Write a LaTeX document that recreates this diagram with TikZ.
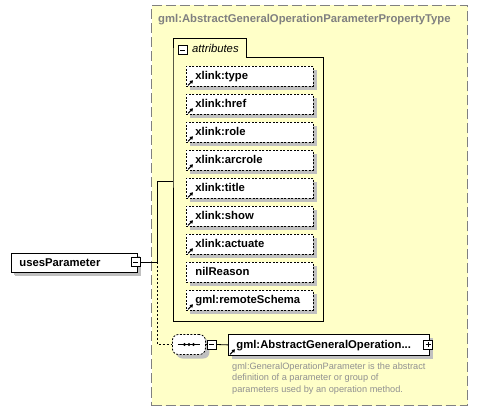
\documentclass[tikz,border=0pt]{standalone}
\usepackage{fontspec}
\setmainfont{Liberation Sans}
\usetikzlibrary{arrows.meta,shadows}
\definecolor{bgyellow}{RGB}{255,255,200}
\definecolor{bordergray}{RGB}{128,128,128}
\definecolor{shadowgray}{RGB}{192,192,192}
\definecolor{descgray}{RGB}{145,145,145}
\newcommand\diagbold{\fontsize{11.3}{13}\selectfont\bfseries}
\newcommand\diagital{\fontsize{11.3}{13}\selectfont\itshape}
\newcommand\diagdesc{\fontsize{9.2}{11.8}\selectfont}
\tikzset{
  shadowed/.style={drop shadow={shadow xshift=#1,shadow yshift=-#1,fill=shadowgray,opacity=1}},
  attrbox/.style={draw, dash pattern=on 2pt off 1.5pt, fill=white, line width=0.8pt,
    minimum width=127pt, minimum height=20pt, inner sep=0pt, anchor=north west,
    text width=127pt, text height=8pt, text depth=1pt, font=\diagbold, shadowed=4pt},
  elembox/.style={draw, fill=white, line width=0.8pt, inner sep=0pt, anchor=north west,
    text height=8pt, text depth=1pt, font=\diagbold, shadowed=4pt},
  expander/.style={draw, fill=white, line width=0.8pt, minimum size=9pt, inner sep=0pt},
  minusbox/.style={expander, path picture={\draw[line width=0.8pt]
    ([xshift=2pt]path picture bounding box.west) -- ([xshift=-2pt]path picture bounding box.east);}},
  plusbox/.style={expander, path picture={\draw[line width=0.8pt]
    ([xshift=2pt]path picture bounding box.west) -- ([xshift=-2pt]path picture bounding box.east)
    ([yshift=2pt]path picture bounding box.south) -- ([yshift=-2pt]path picture bounding box.north);}},
  linkicon/.style={line width=1.1pt, -{Triangle[length=3pt,width=3.6pt]}},
  conn/.style={line width=0.8pt},
  dconn/.style={line width=0.8pt, dash pattern=on 2pt off 2pt},
}
\begin{document}
\begin{tikzpicture}[x=1pt,y=-1pt]
\fill[white] (0,0) rectangle (503,411);
\useasboundingbox (0,0) rectangle (503,411);

% complex type container
\node[draw=bordergray, fill=bgyellow, line width=1pt, dash pattern=on 10pt off 4pt,
  minimum width=316pt, minimum height=400pt, inner sep=0pt, anchor=north west] (ctype) at (151,5) {};
\node[anchor=base west, inner sep=0pt, text=bordergray, font=\diagbold] (title) at (158,23)
  {gml:AbstractGeneralOperationParameterPropertyType};

% attributes group
\draw[line width=0.8pt] (173,57) -- (173,38) -- (246,38) -- (246,57) -- (323,57) -- (323,321) -- (173,321) -- cycle;
\node[minusbox] (attrm) at (182.5,50) {};
\node[anchor=base west, inner sep=0pt, font=\diagital] (attrlabel) at (192,53) {attributes};

\node[attrbox] (a1) at (186,66)  {\hspace*{9pt}xlink:type};
\node[attrbox] (a2) at (186,94)  {\hspace*{9pt}xlink:href};
\node[attrbox] (a3) at (186,122) {\hspace*{9pt}xlink:role};
\node[attrbox] (a4) at (186,150) {\hspace*{9pt}xlink:arcrole};
\node[attrbox] (a5) at (186,178) {\hspace*{9pt}xlink:title};
\node[attrbox] (a6) at (186,206) {\hspace*{9pt}xlink:show};
\node[attrbox] (a7) at (186,234) {\hspace*{9pt}xlink:actuate};
\node[attrbox] (a8) at (186,262) {\hspace*{9pt}nilReason};
\node[attrbox] (a9) at (186,290) {\hspace*{9pt}gml:remoteSchema};
\foreach \n in {a1,a2,a3,a4,a5,a6,a7,a9}
  \draw[linkicon] ([shift={(2,-1.5)}]\n.south west) -- ++(5,-5);

% usesParameter element
\node[elembox, minimum width=126pt, minimum height=19pt, text width=126pt, shadowed=3pt] (uses) at (11,253)
  {\hspace*{8pt}usesParameter};
\node[minusbox] (upm) at (135.5,262) {};

% connectors
\coordinate (fork) at (157,262);
\coordinate (attrjoin) at (173,181);
\draw[conn] (upm.east) -- (fork) |- (attrjoin);
\draw[dconn] (fork) |- (172,344.5) coordinate (seqin);

% sequence compositor
\node[draw, fill=white, line width=0.8pt, dash pattern=on 2pt off 1.5pt, rounded corners=6pt,
  minimum width=33pt, minimum height=20pt, inner sep=0pt, shadowed=4pt, anchor=west] (seq) at (seqin) {};
\draw[line width=1pt] ([xshift=-11pt]seq.center) -- ([xshift=11pt]seq.center);
\foreach \dx in {-4.5,0,4.5}
  \fill ([xshift=\dx pt]seq.center) circle (1.6pt);
\node[minusbox] (seqm) at (211.5,344.5) {};
\draw[conn] (seq.east) -- (seqm.west);

% referenced element
\node[elembox, minimum width=201pt, minimum height=21pt, text width=201pt] (elem) at (228,334)
  {\hspace*{8pt}gml:AbstractGeneralOperation...};
\node[plusbox] (elemp) at (428,344.5) {};
\draw[conn] (seqm.east) -- (elem.west);
\draw[linkicon] ([shift={(2,-1.5)}]elem.south west) -- ++(5,-5);

% documentation
\node[anchor=base west, inner sep=0pt, align=left, text=descgray, font=\diagdesc] (desc) at (232,392.6)
  {gml:GeneralOperationParameter is the abstract\\definition of a parameter or group of\\parameters used by an operation method.};
\end{tikzpicture}
\end{document}
